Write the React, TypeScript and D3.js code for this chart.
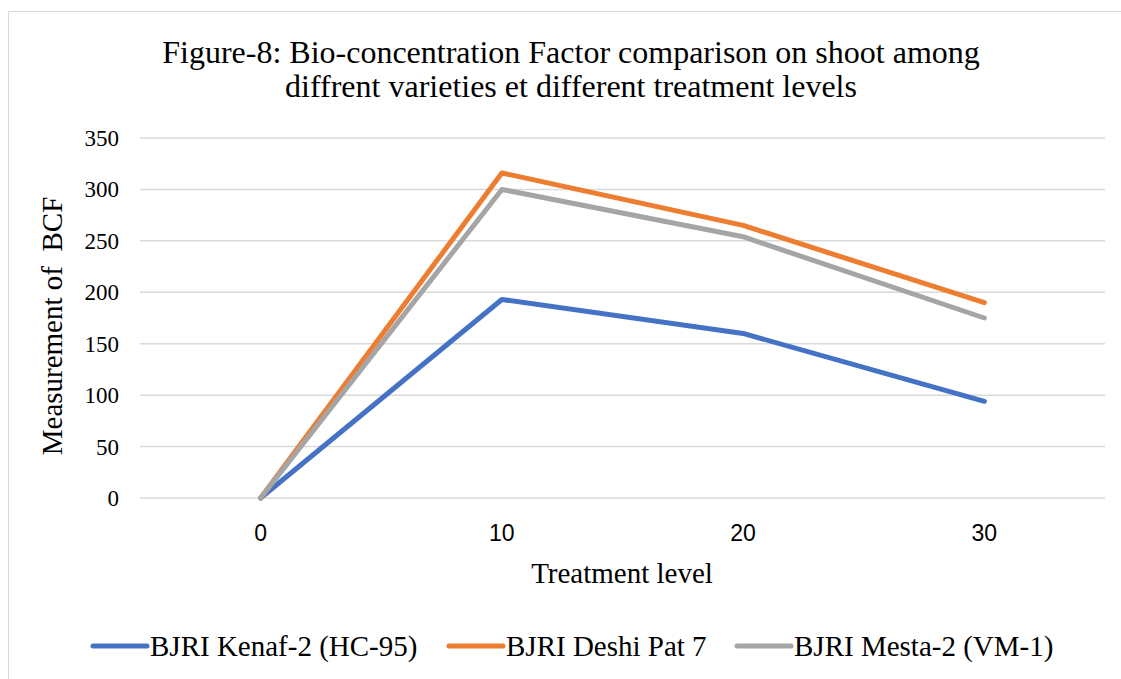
import React from "react";
import * as d3 from "d3";

const categories = ["0", "10", "20", "30"];
const seriesNames = ["BJRI Kenaf-2 (HC-95)", "BJRI Deshi Pat 7", "BJRI Mesta-2 (VM-1)"];
const kenaf = [0, 193, 160, 94];
const deshi = [0, 316, 265, 190];
const mesta = [0, 300, 254, 175];
const yTicks = [0, 50, 100, 150, 200, 250, 300, 350];
const colors = ["#4472C4", "#ED7D31", "#A5A5A5"];

const W = 1121;
const H = 679;

export default function App() {
  const x = d3.scaleBand<string>().domain(categories).range([140, 1105]);
  const y = d3.scaleLinear().domain([0, 350]).range([498, 138]);
  const cx = (c: string) => (x(c) as number) + x.bandwidth() / 2;
  const line = d3
    .line<number>()
    .x((_, i) => cx(categories[i]))
    .y((d) => y(d));
  const data = [kenaf, deshi, mesta];
  const serif = "'Liberation Serif', 'Times New Roman', serif";
  const sans = "'Liberation Sans', Arial, sans-serif";
  const legendX = [93, 449, 737];
  return (
    <svg
      width={W}
      height={H}
      style={{ position: "absolute", left: 0, top: 0, background: "#fff" }}
    >
      <rect x={8.5} y={11.5} width={1130} height={700} fill="#fff" stroke="#D9D9D9" strokeWidth={1} />
      <text x={571} y={63} textAnchor="middle" fontFamily={serif} fontSize={32} fill="#000">
        Figure-8: Bio-concentration Factor comparison on shoot among
      </text>
      <text x={571} y={97} textAnchor="middle" fontFamily={serif} fontSize={32} fill="#000">
        diffrent varieties et different treatment levels
      </text>
      {yTicks.map((t) => (
        <g key={t}>
          <line x1={140} x2={1105} y1={y(t)} y2={y(t)} stroke="#D9D9D9" strokeWidth={1.5} />
          <text x={119} y={y(t) + 8} textAnchor="end" fontFamily={serif} fontSize={23} fill="#000">
            {t}
          </text>
        </g>
      ))}
      {categories.map((c) => (
        <text key={c} x={cx(c)} y={541} textAnchor="middle" fontFamily={sans} fontSize={23} fill="#000">
          {c}
        </text>
      ))}
      <text
        transform={`translate(62,${326}) rotate(-90)`}
        textAnchor="middle"
        fontFamily={serif}
        fontSize={29}
        fill="#000"
        style={{ whiteSpace: "pre" }}
      >
        {"Measurement of  BCF"}
      </text>
      <text x={622} y={583} textAnchor="middle" fontFamily={serif} fontSize={29} fill="#000">
        Treatment level
      </text>
      {data.map((d, i) => (
        <path
          key={i}
          d={line(d) || ""}
          fill="none"
          stroke={colors[i]}
          strokeWidth={5}
          strokeLinecap="round"
          strokeLinejoin="round"
        />
      ))}
      {seriesNames.map((n, i) => (
        <g key={n}>
          <line
            x1={legendX[i]}
            x2={legendX[i] + 54}
            y1={646}
            y2={646}
            stroke={colors[i]}
            strokeWidth={5}
            strokeLinecap="round"
          />
          <text x={legendX[i] + 57} y={656} fontFamily={serif} fontSize={29} fill="#000">
            {n}
          </text>
        </g>
      ))}
    </svg>
  );
}
